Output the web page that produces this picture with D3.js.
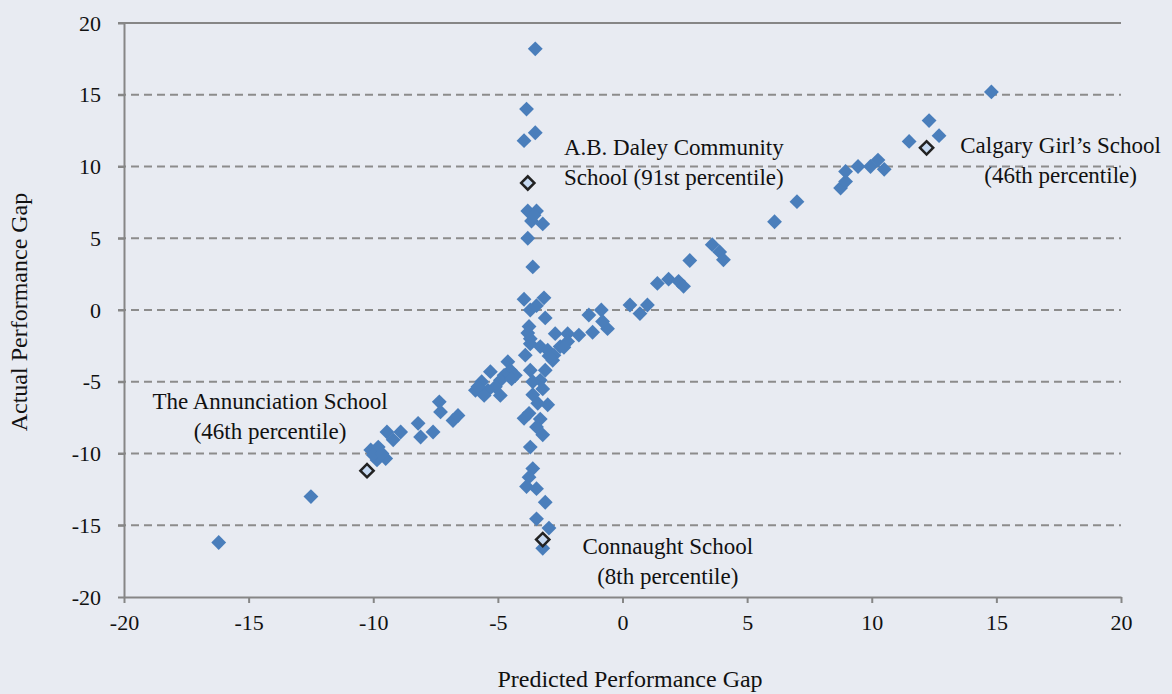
<!DOCTYPE html>
<html>
<head>
<meta charset="utf-8">
<script src="https://cdn.jsdelivr.net/npm/d3@7"></script>
<style>
  body { margin: 0; background: #e8ebf2; }
  svg { display: block; font-family: 'Liberation Serif', 'DejaVu Serif', serif; }
  .ejes path, .ejes line { stroke: #868686; stroke-width: 2; }
  .ejes text { fill: #111; }
</style>
</head>
<body>
<div id="graf"></div>
<script>
// predicted vs actual performance gap, one entry per school
const predicted = [
  -3.5, -3.85, -3.5, -3.95, -3.8, -3.45, -3.65, -3.55, -3.2, -3.8, -3.6,
  -3.95, -3.15, -3.45, -3.7, -3.1, -3.75, -3.8, -3.7, -3.7, -3.3,
  -2.7, -2.2, -1.75, -1.2, -1.35, -0.85, -0.6, -0.8, 0.3, 0.7, 1.0,
  -3.0, -2.75, -2.5, -2.2, -2.8, -3.9, -2.95, -2.35,
  -4.6, -4.5, -4.3, -4.75, -4.9, -5.3, -5.1, -5.4, -5.65, -5.9, -5.55, -4.9, -4.45,
  -3.7, -3.1, -3.3, -3.6, -3.2, -3.6, -3.0, -3.4, -3.95, -3.75, -3.3, -3.45, -3.2,
  -3.7, -3.6, -3.75, -3.85, -3.45, -3.1, -3.45, -2.95, -3.2,
  -8.9, -8.2, -8.1, -7.6, -7.35, -7.3, -6.8, -6.6,
  -10.1, -9.8, -9.45, -9.2, -9.5, -9.85, -10.0, -9.65, -5.8, -12.5, -16.2,
  1.4, 1.85, 2.25, 2.45, 2.7, 3.6, 3.9, 4.05, 6.1, 7.0,
  8.75, 8.95, 8.95, 9.45, 9.95, 10.25, 10.5, 11.5, 12.3, 12.7, 14.8
]
const actual = [
  18.2, 14.0, 12.35, 11.8, 6.9, 6.9, 6.2, 6.6, 6.0, 5.0, 3.0,
  0.75, 0.85, 0.3, 0.0, -0.55, -1.15, -1.6, -2.0, -2.35, -2.55,
  -1.65, -1.65, -1.75, -1.55, -0.35, 0.0, -1.3, -0.8, 0.35, -0.25, 0.35,
  -2.8, -3.15, -2.55, -2.2, -3.5, -3.15, -3.2, -2.6,
  -3.6, -4.2, -4.55, -4.55, -4.9, -4.3, -5.35, -5.6, -5.0, -5.6, -5.95, -5.95, -4.8,
  -4.2, -4.2, -4.9, -5.0, -5.5, -5.9, -6.6, -6.5, -7.55, -7.2, -7.6, -8.15, -8.7,
  -9.55, -11.05, -11.65, -12.3, -12.45, -13.4, -14.55, -15.2, -16.6,
  -8.5, -7.9, -8.85, -8.5, -6.4, -7.1, -7.7, -7.35,
  -9.75, -9.55, -8.5, -9.05, -10.35, -10.45, -10.1, -10.0, -5.35, -13.0, -16.2,
  1.85, 2.15, 2.0, 1.65, 3.45, 4.55, 4.05, 3.5, 6.15, 7.55,
  8.5, 8.95, 9.65, 10.0, 10.0, 10.45, 9.8, 11.75, 13.2, 12.15, 15.2
]

// schools picked out with a label
const escuelas = ['A.B. Daley Community|School (91st percentile)', 'Calgary Girl\u2019s School|(46th percentile)',
  'The Annunciation School|(46th percentile)', 'Connaught School|(8th percentile)']
const escPred = [-3.8, 12.2, -10.25, -3.2]
const escAct = [8.85, 11.3, -11.2, -16.0]

const ticks = [-20, -15, -10, -5, 0, 5, 10, 15, 20]

const anchoTotal = 1172
const altoTotal = 694

const margin = {
  top: 23,
  bottom: 97,
  left: 124,
  right: 51,
}

const ancho = anchoTotal - margin.left - margin.right
const alto = altoTotal - margin.top - margin.bottom

const svg = d3.select('#graf')
  .append('svg')
  .attr('width', anchoTotal)
  .attr('height', altoTotal)

const g = svg
  .append('g')
  .attr('transform', `translate(${margin.left}, ${margin.top})`)

const x = d3.scaleLinear().domain([-20, 20]).range([0, ancho])
const y = d3.scaleLinear().domain([-20, 20]).range([alto, 0])

// dashed grid lines, solid line on top
g.selectAll('.grid')
  .data(ticks.filter((d) => d > -20))
  .enter()
  .append('line')
  .attr('x1', -6)
  .attr('x2', ancho)
  .attr('y1', (d) => y(d))
  .attr('y2', (d) => y(d))
  .attr('stroke', (d) => (d == 20 ? '#868686' : '#8c8c8c'))
  .attr('stroke-width', 2)
  .attr('stroke-dasharray', (d) => (d == 20 ? null : '8,5'))

const fmt = (d) => String(d)

g.append('g')
  .attr('class', 'ejes')
  .call(d3.axisLeft(y).tickValues(ticks).tickFormat(fmt).tickSize(6).tickPadding(17).tickSizeOuter(0))
  .attr('font-family', "'Liberation Serif', serif")
  .attr('font-size', 22)

g.append('g')
  .attr('class', 'ejes')
  .attr('transform', `translate(0, ${alto})`)
  .call(d3.axisBottom(x).tickValues(ticks).tickFormat(fmt).tickSize(6).tickPadding(11).tickSizeOuter(0))
  .attr('font-family', "'Liberation Serif', serif")
  .attr('font-size', 22)

// axis titles
svg.append('text')
  .attr('x', 630)
  .attr('y', 687)
  .attr('text-anchor', 'middle')
  .attr('font-size', 24)
  .attr('fill', '#111')
  .text('Predicted Performance Gap')

svg.append('text')
  .attr('transform', 'translate(27, 312) rotate(-90)')
  .attr('text-anchor', 'middle')
  .attr('font-size', 24)
  .attr('fill', '#111')
  .text('Actual Performance Gap')

const diamante = d3.symbol().type(d3.symbolSquare).size(110)

g.selectAll('.punto')
  .data(d3.range(predicted.length))
  .enter()
  .append('path')
  .attr('d', diamante)
  .attr('transform', (i) => `translate(${x(predicted[i])}, ${y(actual[i])}) rotate(45)`)
  .attr('fill', '#4a7ebb')

g.selectAll('.esc')
  .data(d3.range(escuelas.length))
  .enter()
  .append('path')
  .attr('d', d3.symbol().type(d3.symbolSquare).size(88))
  .attr('transform', (i) => `translate(${x(escPred[i])}, ${y(escAct[i])}) rotate(45)`)
  .attr('fill', '#c6d9f1')
  .attr('stroke', '#222')
  .attr('stroke-width', 2.5)

// label positions, offset from each point
const offX = [146, -134, -97, 125]
const offY = [-28, 5, -62, 14]

escuelas.forEach((t, i) => {
  const lineas = t.split('|')
  const txt = g.append('text')
    .attr('text-anchor', 'middle')
    .attr('font-size', 23)
    .attr('fill', '#111')
  lineas.forEach((l, j) => {
    txt.append('tspan')
      .attr('x', x(escPred[i]) - offX[i] * (i == 1 ? 1 : -1))
      .attr('y', y(escAct[i]) + offY[i] + j * 30)
      .text(l)
  })
})
</script>
</body>
</html>
